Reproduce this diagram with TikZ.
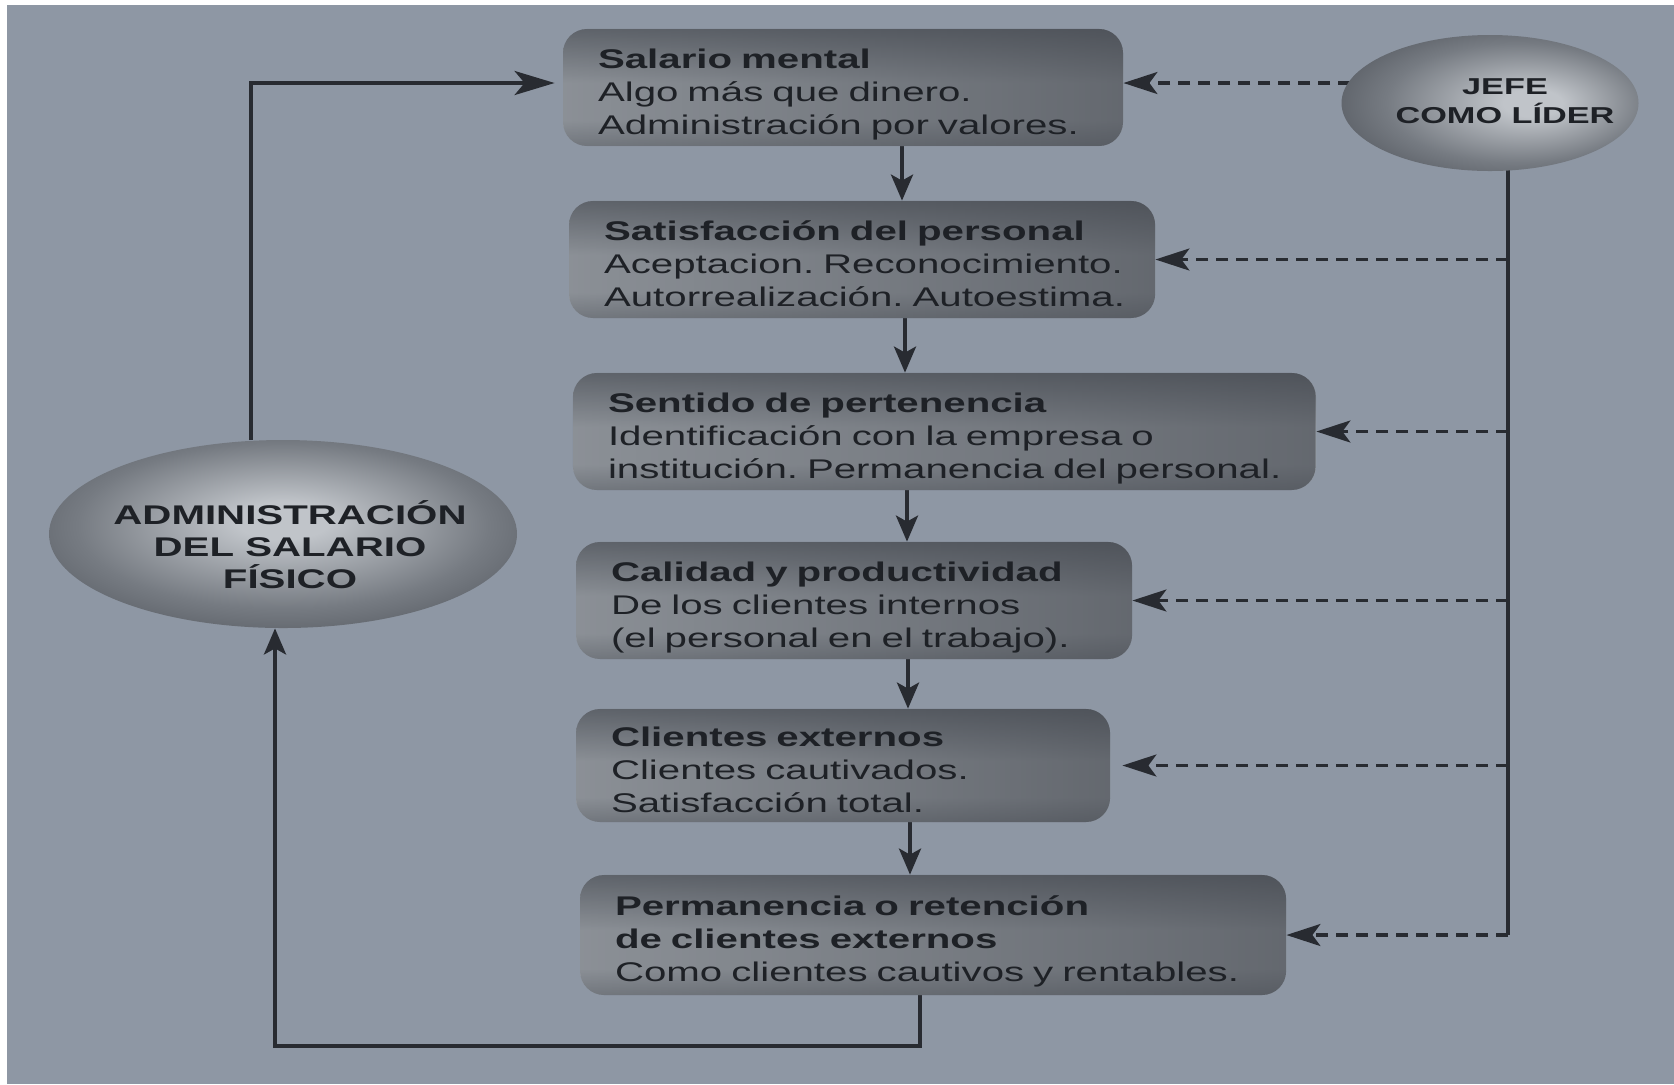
\documentclass[tikz,border=0pt]{standalone}
\usepackage{fontspec}
\setmainfont{Liberation Sans}[FakeStretch=1.49]
\usetikzlibrary{arrows.meta,shapes.geometric,fadings}
\definecolor{bgc}{RGB}{142,151,164}
\definecolor{bxd}{RGB}{66,70,77}
\definecolor{bxm}{RGB}{102,107,114}
\definecolor{bxl}{RGB}{164,169,175}
\definecolor{ell}{RGB}{192,196,201}
\definecolor{elm}{RGB}{118,123,130}
\definecolor{eld}{RGB}{62,66,73}
\definecolor{txt}{RGB}{30,33,38}
\definecolor{lnc}{RGB}{40,43,49}
\pgfdeclareverticalshading{boxsh}{100bp}{color(0bp)=(bxd); color(16bp)=(bxm); color(36bp)=(bxl); color(52bp)=(bxl); color(76bp)=(bxm); color(100bp)=(bxd)}
\pgfdeclareradialshading{elsh}{\pgfpoint{0bp}{4bp}}{color(0bp)=(ell); color(5bp)=(ell); color(22bp)=(elm); color(40bp)=(eld); color(50bp)=(eld)}
\pgfdeclareradialshading{jesh}{\pgfpoint{8bp}{0bp}}{color(0bp)=(ell); color(5bp)=(ell); color(22bp)=(elm); color(40bp)=(eld); color(50bp)=(eld)}
\tikzfading[name=rfade, left color=transparent!75, middle color=transparent!100, right color=transparent!35]
\newcommand\boxfont{\fontsize{13.5}{16.5}\selectfont}
\newcommand\admfont{\fontsize{13.5}{16}\selectfont\bfseries}
\newcommand\jefont{\fontsize{11.5}{14.5}\selectfont\bfseries}
\newcommand\boxlines[1]{\raisebox{-3.5pt}[\height][\depth]{\begin{tabular}{@{}l@{}}#1\end{tabular}}}
\pgfdeclarelayer{bglayer}
\pgfdeclarelayer{connlayer}
\pgfsetlayers{bglayer,connlayer,main}
\frenchspacing
\begin{document}
\begin{tikzpicture}[x=0.5pt,y=-0.5pt,
  box/.style={rounded corners=12pt, shade, shading=boxsh,
    postaction={fill=bxd, path fading=rfade},
    minimum height=58.5pt, inner xsep=17.5pt, inner ysep=0pt,
    align=left, text=txt, font=\boxfont, anchor=center},
  oval/.style={ellipse, shade, inner sep=0pt},
  ovaltext/.style={align=center, text=txt, inner sep=0pt},
  solidarr/.style={draw=lnc, line width=2pt, -{Stealth[length=13pt,width=11pt,inset=3pt]}},
  longarr/.style={draw=lnc, line width=2pt, -{Stealth[length=20pt,width=12pt,inset=5pt]}},
  plainline/.style={draw=lnc, line width=1.6pt},
  dasharr/.style={draw=lnc, line width=1.6pt, dash pattern=on 6pt off 4pt,
    -{Stealth[length=17pt,width=11pt,inset=4pt]}}
]
\useasboundingbox (0,0) rectangle (1674,1084);
\begin{pgfonlayer}{bglayer}
  \fill[white] (0,0) rectangle (1674,1084);
  \fill[bgc] (7,5) rectangle (1674,1084);
\end{pgfonlayer}

% boxes
\node[box, text width=245pt] (b1) at (843,87.5)
  {\boxlines{\textbf{Salario mental}\\Algo más que dinero.\\Administración por valores.}};
\node[box, text width=258pt] (b2) at (862,259.5)
  {\boxlines{\textbf{Satisfacción del personal}\\Aceptacion. Reconocimiento.\\Autorrealización. Autoestima.}};
\node[box, text width=336.5pt] (b3) at (944.5,431.5)
  {\boxlines{\textbf{Sentido de pertenencia}\\Identificación con la empresa o\\institución. Permanencia del personal.}};
\node[box, text width=243pt] (b4) at (854,600.5)
  {\boxlines{\textbf{Calidad y productividad}\\De los clientes internos\\(el personal en el trabajo).}};
\node[box, text width=232pt, minimum height=56.5pt] (b5) at (843,765.5)
  {\boxlines{\textbf{Clientes externos}\\Clientes cautivados.\\Satisfacción total.}};
\node[box, text width=318pt, minimum height=60pt] (b6) at (933,935)
  {\boxlines{\textbf{Permanencia o retención}\\\textbf{de clientes externos}\\Como clientes cautivos y rentables.}};

% ellipses
\node[oval, shading=elsh, minimum width=234pt, minimum height=94pt] (adm) at (283,534) {};
\node[ovaltext, font=\admfont] (admtxt) at (290,545) {ADMINISTRACIÓN\\DEL SALARIO\\FÍSICO};
\node[oval, shading=jesh, minimum width=148.5pt, minimum height=68pt] (jefe) at (1490,103) {};
\node[ovaltext, font=\jefont] (jefetxt) at (1505,101) {JEFE\\COMO LÍDER};

% helper coordinates
\coordinate (d1) at (0,83);
\coordinate (v1) at (902,0);
\coordinate (v2) at (905,0);
\coordinate (v3) at (907,0);
\coordinate (v4) at (908,0);
\coordinate (v5) at (910,0);
\coordinate (jx) at (1508,0);
\coordinate (bl) at (275,1046);

\begin{pgfonlayer}{connlayer}
  % main chain
  \draw[solidarr] (b1.south -| v1) -- (b2.north -| v1);
  \draw[solidarr] (b2.south -| v2) -- (b3.north -| v2);
  \draw[solidarr] (b3.south -| v3) -- (b4.north -| v3);
  \draw[solidarr] (b4.south -| v4) -- (b5.north -| v4);
  \draw[solidarr] (b5.south -| v5) -- (b6.north -| v5);
  % left loop
  \draw[longarr, shorten >=4pt] ([xshift=-16pt]adm.north) |- (b1.west |- d1);
  \draw[solidarr] ([xshift=-6.5pt]b6.south) |- (bl) -- (bl |- adm.south);
  % leader side
  \draw[plainline] (jefe.center -| jx) -- (jx |- b6.east);
  \draw[dasharr] (jefe.center |- d1) -- (b1.east |- d1);
  \draw[dasharr] (jx |- b2.east) -- (b2.east);
  \draw[dasharr] (jx |- b3.east) -- (b3.east);
  \draw[dasharr] (jx |- b4.east) -- (b4.east);
  \draw[dasharr, shorten >=6pt] (jx |- b5.east) -- (b5.east);
  \draw[dasharr] (jx |- b6.east) -- (b6.east);
\end{pgfonlayer}
\end{tikzpicture}
\end{document}
